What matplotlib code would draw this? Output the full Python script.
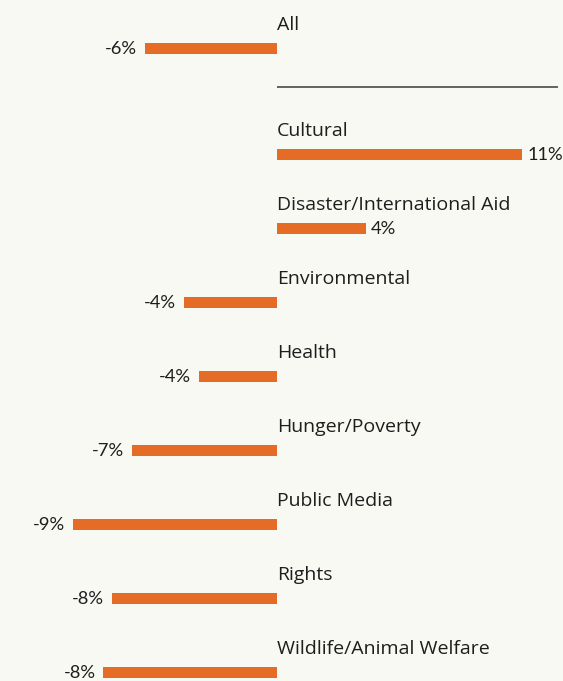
import matplotlib
matplotlib.use("Agg")
import matplotlib.pyplot as plt

# ---- data ----
overall_label = "All"
overall_value = -6.1
categories = ["Cultural", "Disaster/International Aid", "Environmental", "Health",
              "Hunger/Poverty", "Public Media", "Rights", "Wildlife/Animal Welfare"]
values = [11.3, 4.1, -4.3, -3.6, -6.7, -9.4, -7.6, -8.0]

# ---- style ----
BG = "#f9f9f4"
BAR = "#e46c26"
TXT = "#1e1e1e"
NAME_FONT = "Open Sans"
VAL_FONT = "Lato"
FS_NAME = 14.0
FS_VAL = 13.2

W, H, DPI = 563, 681, 100
fig = plt.figure(figsize=(W / DPI, H / DPI), dpi=DPI, facecolor=BG)
ax = fig.add_axes([0, 0, 1, 1], facecolor=BG)

px_per_unit_x = 21.7   # pixels per percentage point
zero_px = 277
row_px = 74.07
first_row_px = 154.5
all_row_px = 48.5
sep_px = 87

ax.set_xlim(-zero_px / px_per_unit_x, (W - zero_px) / px_per_unit_x)
ax.set_ylim((H - first_row_px) / row_px, -first_row_px / row_px)
ax.axis("off")

bar_h = 11 / row_px
y_all = (all_row_px - first_row_px) / row_px
ys = list(range(len(categories)))

all_names = [overall_label] + categories
all_vals = [overall_value] + values
all_ys = [y_all] + ys

ax.barh(all_ys, all_vals, height=bar_h, color=BAR, left=0)

for name, v, y in zip(all_names, all_vals, all_ys):
    ax.annotate(name, (0, y), xytext=(0, 18.5), textcoords="offset pixels",
                ha="left", va="baseline", fontsize=FS_NAME, family=NAME_FONT, color=TXT)
    lab = f"{v:.0f}%"
    if v >= 0:
        ax.annotate(lab, (v, y), xytext=(5, 0), textcoords="offset pixels",
                    ha="left", va="center", fontsize=FS_VAL, family=VAL_FONT, color=TXT)
    else:
        ax.annotate(lab, (v, y), xytext=(-8, 0), textcoords="offset pixels",
                    ha="right", va="center", fontsize=FS_VAL, family=VAL_FONT, color=TXT)

# separator line under "All"
y_sep = (sep_px - first_row_px) / row_px
ax.plot([0, (558 - zero_px) / px_per_unit_x], [y_sep, y_sep], color="#3a3a3a", lw=1.1,
        solid_capstyle="butt")

fig.savefig("out.png", dpi=DPI, facecolor=BG)
